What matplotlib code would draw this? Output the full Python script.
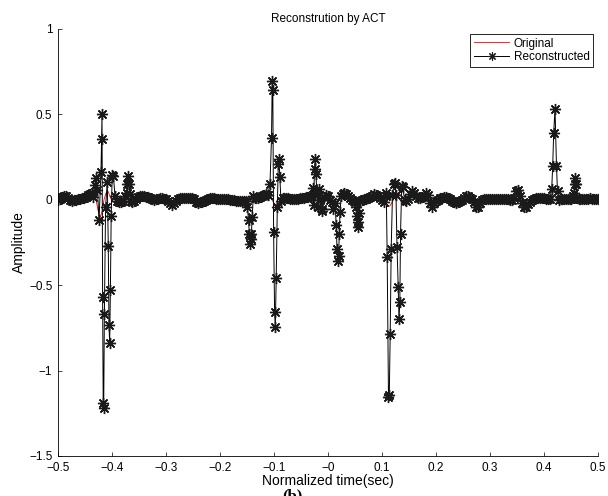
import numpy as np
import matplotlib.pyplot as plt
from matplotlib.ticker import FuncFormatter

# =====================
# Data
# =====================
t = np.linspace(-0.5, 0.5, 271)

# original signal, one value per sample of t
original = [
    0.0, 0.005, 0.015, 0.022, 0.022, 0.012, 0.0, -0.006, -0.004, 0.0,
    0.002, 0.006, 0.01, 0.013, 0.018, 0.026, 0.035, 0.04, 0.03, 0.0,
    -0.06, -0.105, -0.07, 0.0, 0.04, 0.05, 0.02, -0.01, -0.015, -0.01,
    -0.005, -0.01, -0.015, -0.01, 0.0, 0.01, 0.0, -0.01, -0.006, 0.005,
    0.015, 0.022, 0.023, 0.02, 0.016, 0.015, 0.01, 0.005, 0.0, 0.002,
    0.005, 0.008, 0.008, 0.005, 0.002, -0.005, -0.02, -0.032, -0.02, -0.005,
    0.004, 0.008, 0.011, 0.013, 0.013, 0.013, 0.013, 0.01, 0.002, -0.01,
    -0.016, -0.015, -0.01, -0.007, -0.004, 0.002, 0.008, 0.01, 0.008, 0.005,
    0.004, 0.004, 0.005, 0.005, 0.004, 0.002, 0.0, 0.0, -0.002, -0.005,
    -0.006, -0.006, -0.006, -0.006, -0.008, -0.01, -0.01, -0.005, 0.005, 0.01,
    0.013, 0.018, 0.025, 0.03, 0.033, 0.028, 0.015, 0.0, -0.02, -0.03,
    -0.015, -0.005, 0.005, 0.012, 0.013, 0.01, 0.006, 0.003, 0.002, 0.003,
    0.006, 0.01, 0.012, 0.013, 0.014, 0.018, 0.023, 0.02, 0.01, 0.0,
    -0.015, -0.02, -0.01, 0.015, 0.03, 0.02, 0.0, -0.015, -0.02, -0.01,
    -0.005, 0.01, 0.03, 0.04, 0.035, 0.02, 0.01, 0.0, -0.005, -0.01,
    -0.01, -0.005, 0.0, 0.004, 0.006, 0.008, 0.015, 0.025, 0.033, 0.03,
    0.02, 0.01, 0.0, -0.01, -0.025, -0.04, -0.035, -0.015, 0.01, 0.025,
    0.035, 0.03, 0.015, 0.0, -0.006, 0.005, 0.035, 0.053, 0.04, 0.02,
    0.013, 0.01, 0.015, 0.025, 0.038, 0.03, -0.02, -0.045, -0.02, -0.008,
    0.0, 0.008, 0.013, 0.015, 0.015, 0.013, 0.005, -0.005, -0.014, -0.016,
    -0.012, -0.008, -0.002, 0.01, 0.02, 0.022, 0.012, 0.004, -0.015, -0.04,
    -0.045, -0.02, 0.0, 0.003, 0.004, 0.004, 0.004, 0.004, 0.004, 0.004,
    0.004, 0.003, 0.003, 0.003, 0.002, 0.002, 0.001, 0.0, 0.01, 0.05,
    0.06, 0.02, -0.02, -0.045, -0.04, -0.025, -0.01, 0.0, 0.004, 0.008,
    0.01, 0.01, 0.01, 0.008, 0.006, 0.005, 0.004, 0.003, 0.0, -0.005,
    0.0, 0.003, 0.004, 0.005, 0.005, 0.005, 0.006, 0.008, 0.01, 0.008,
    0.006, 0.005, 0.005, 0.005, 0.005, 0.006, 0.008, 0.006, 0.005, 0.004, 0.004,
]

# reconstruction artefacts: bursts where the reconstructed signal departs
burst_t = [
    [-0.4352, -0.4315, -0.4296, -0.4269, -0.4241, -0.4204, -0.4194, -0.4185,
     -0.4174, -0.4163, -0.4154, -0.4141, -0.4119, -0.4087, -0.4069, -0.4056,
     -0.4043, -0.4030, -0.4015, -0.3996, -0.3974, -0.3944, -0.3907, -0.3870,
     -0.3833, -0.3796, -0.3759, -0.3730, -0.3719, -0.3707, -0.3693, -0.3667,
     -0.3639],
    [-0.1519, -0.1491, -0.1472, -0.1457, -0.1444, -0.1431, -0.1419, -0.1404,
     -0.1383, -0.1352],
    [-0.1111, -0.1074, -0.1046, -0.1033, -0.1022, -0.1007, -0.0989, -0.0976,
     -0.0959, -0.0939, -0.0920, -0.0907, -0.0893, -0.0870, -0.0833],
    [-0.0315, -0.0283, -0.0267, -0.0250, -0.0237, -0.0222, -0.0207, -0.0185,
     -0.0170, -0.0148, -0.0117, -0.0102, -0.0074],
    [0.0093, 0.0130, 0.0152, 0.0167, 0.0181, 0.0196, 0.0209, 0.0222, 0.0244,
     0.0269],
    [0.0500, 0.0524, 0.0537, 0.0548, 0.0559, 0.0574, 0.0596],
    [0.1037, 0.1065, 0.1080, 0.1096, 0.1120, 0.1135, 0.1152, 0.1170, 0.1194,
     0.1222, 0.1241, 0.1259, 0.1278, 0.1300, 0.1315, 0.1330, 0.1343, 0.1365,
     0.1385, 0.1417],
    [0.4111, 0.4143, 0.4161, 0.4180, 0.4204, 0.4231, 0.4250, 0.4278, 0.4315],
    [0.4500, 0.4528, 0.4552, 0.4565, 0.4578, 0.4593, 0.4611, 0.4639],
]
burst_v = [
    [0.015, 0.087, 0.13, 0.06, -0.12, 0.16, 0.355, 0.50,
     -0.57, -1.19, -1.22, -0.67, -0.045, 0.107, -0.27, -0.735,
     -0.84, -0.53, -0.093, 0.146, 0.14, 0.02, -0.005, -0.01,
     -0.015, -0.005, 0.02, 0.04, 0.09, 0.14, 0.093, 0.035,
     -0.005],
    [-0.006, -0.045, -0.12, -0.2, -0.26, -0.23, -0.2, -0.1, 0.023, 0.008],
    [0.03, 0.095, 0.363, 0.694, 0.64, -0.19, -0.657, -0.745,
     -0.455, -0.045, 0.21, 0.237, 0.134, -0.005, 0.01],
    [0.02, 0.07, -0.03, 0.18, 0.237, 0.15, 0.03, -0.045,
     0.064, 0.0, -0.055, -0.064, 0.015],
    [-0.055, -0.02, -0.146, -0.286, -0.356, -0.33, -0.2, -0.074, 0.02, 0.033],
    [-0.01, -0.045, -0.093, -0.13, -0.16, -0.08, -0.005],
    [-0.01, 0.02, 0.037, -0.333, -1.153, -1.14, -0.784, -0.288, 0.03,
     0.092, 0.10, 0.03, -0.274, -0.51, -0.70, -0.60, -0.2, 0.08,
     0.076, 0.0],
    [0.004, 0.062, 0.2, 0.393, 0.533, 0.2, 0.05, 0.0, 0.004],
    [0.006, 0.02, 0.04, 0.09, 0.13, 0.09, 0.01, 0.006],
]

# reconstructed = original outside the bursts, burst samples inside
orig_v = np.asarray(original, dtype=float)
keep = np.ones(len(t), dtype=bool)
for bt in burst_t:
    keep &= ~((t >= bt[0]) & (t <= bt[-1]))
rec_t = np.concatenate([t[keep]] + [np.asarray(b) for b in burst_t])
rec_v = np.concatenate([orig_v[keep]] + [np.asarray(b) for b in burst_v])
order = np.argsort(rec_t)
rec_t, rec_v = rec_t[order], rec_v[order]

# =====================
# Plot
# =====================
plt.rcParams['font.family'] = ['Liberation Sans', 'DejaVu Sans']

fig = plt.figure(figsize=(6.08, 4.96), dpi=100)
ax = fig.add_axes([58 / 608, 40 / 496, 540 / 608, 427 / 496])

ax.plot(t, orig_v, color='red', linewidth=0.6, label='Original')
ax.plot(rec_t, rec_v, color='black', linewidth=0.7, marker=(8, 2, 0),
        markersize=8, markeredgewidth=1.0, markeredgecolor='#1a1a1a',
        label='Reconstructed')

ax.set_xlim(-0.5, 0.5)
ax.set_ylim(-1.5, 1)
ax.set_xticks(np.round(np.arange(-0.5, 0.51, 0.1), 1))
ax.set_yticks([-1.5, -1, -0.5, 0, 0.5, 1])
fmt = FuncFormatter(lambda v, p: ('%g' % round(v, 2)).replace('-', '\u2212'))
ax.xaxis.set_major_formatter(fmt)
ax.yaxis.set_major_formatter(fmt)
ax.tick_params(direction='in', length=3, width=0.5, labelsize=8.5, pad=4)

for side in ['top', 'right']:
    ax.spines[side].set_visible(False)
for side in ['left', 'bottom']:
    ax.spines[side].set_linewidth(0.6)

ax.set_title('Reconstrution by ACT', fontsize=8.5, pad=5)
ax.set_xlabel('Normalized time(sec)', fontsize=10, labelpad=0)
ax.set_ylabel('Amplitude', fontsize=10, labelpad=2)

leg = ax.legend(loc='upper right', bbox_to_anchor=(593 / 608, 1 - 34 / 496),
                bbox_transform=fig.transFigure, borderaxespad=0,
                fontsize=8.5, fancybox=False, framealpha=1, edgecolor='black',
                handlelength=3, handletextpad=0.35, labelspacing=0.15,
                borderpad=0.3)
leg.get_frame().set_linewidth(0.6)
for h in leg.legend_handles:
    h.set_markersize(6)
    h.set_markeredgewidth(0.8)

fig.text(292 / 608, 1 - 488 / 496, '(b)', ha='center', va='top',
         fontsize=12, fontweight='bold', family='Liberation Serif')

fig.savefig('out.png', dpi=100)
